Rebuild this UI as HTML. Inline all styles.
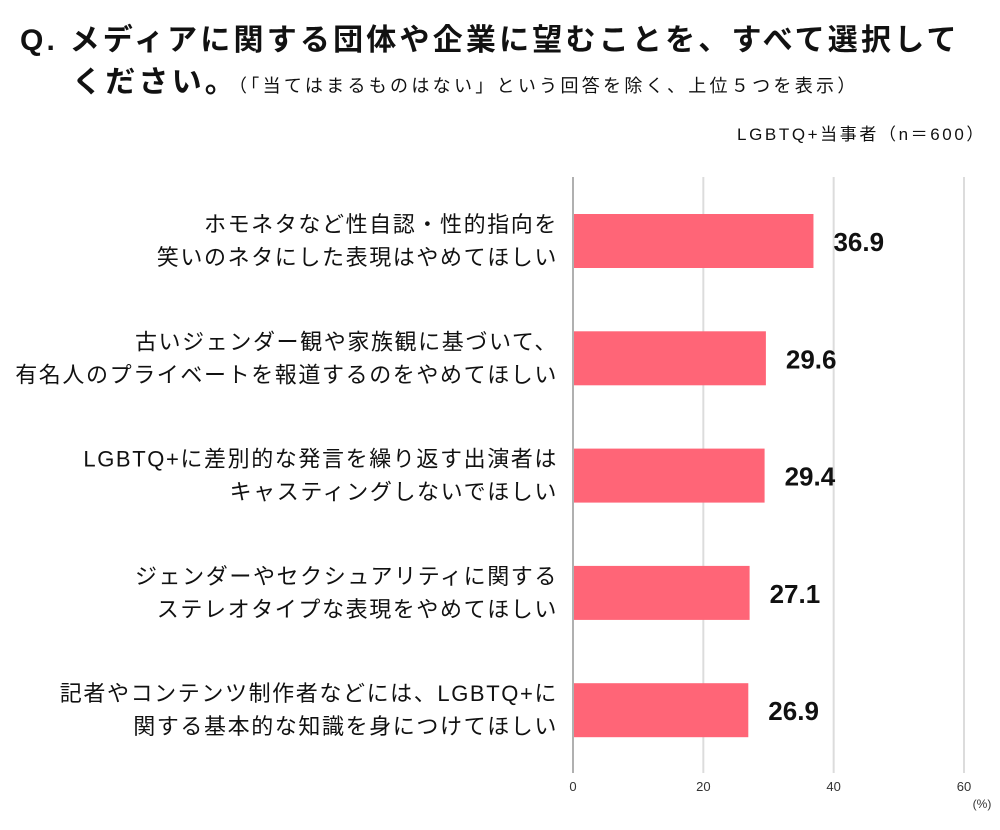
<!DOCTYPE html>
<html><head><meta charset="utf-8"><style>
body{margin:0;background:#fff;width:1000px;height:825px;overflow:hidden;font-family:"Liberation Sans","Noto Sans CJK JP",sans-serif;color:#111}
</style></head><body>
<svg width="1000" height="825" xmlns="http://www.w3.org/2000/svg" font-family="Liberation Sans, Noto Sans CJK JP, sans-serif">
<text x="20" y="50" font-size="30" font-weight="bold" letter-spacing="3.2" fill="#111">Q. メディアに関する団体や企業に望むことを、すべて選択して</text>
<text x="72" y="92" font-size="30" font-weight="bold" letter-spacing="3.2" fill="#111">ください。<tspan font-size="18" font-weight="normal" letter-spacing="3.3" dx="0">（「当てはまるものはない」という回答を除く、上位５つを表示）</tspan></text>
<text x="986" y="140" font-size="17" letter-spacing="2.6" text-anchor="end" fill="#111">LGBTQ+当事者（n＝600）</text>
<g id="grid"></g><g id="bars"></g><g id="labels"></g>
<text x="982" y="808" font-size="12" text-anchor="middle" fill="#333">(%)</text>
</svg>
<script>
const categories=[
["ホモネタなど性自認・性的指向を","笑いのネタにした表現はやめてほしい"],
["古いジェンダー観や家族観に基づいて、","有名人のプライベートを報道するのをやめてほしい"],
["LGBTQ+に差別的な発言を繰り返す出演者は","キャスティングしないでほしい"],
["ジェンダーやセクシュアリティに関する","ステレオタイプな表現をやめてほしい"],
["記者やコンテンツ制作者などには、LGBTQ+に","関する基本的な知識を身につけてほしい"]];
const values=[36.9,29.6,29.4,27.1,26.9];
const ticks=[0,20,40,60];
const NS="http://www.w3.org/2000/svg";
const x0=573,x60=964,yTop=177,yBot=773;
const xs=v=>x0+(x60-x0)*v/60;
const yc=i=>241+117.3*i;
function mk(t,a,p){const e=document.createElementNS(NS,t);for(const k in a)e.setAttribute(k,a[k]);p.appendChild(e);return e;}
const g=document.getElementById('grid'),b=document.getElementById('bars'),l=document.getElementById('labels');
ticks.forEach(t=>{
 const ln=mk('line',{x1:xs(t),x2:xs(t),y1:yTop,y2:yBot,stroke:t===0?'#b0b0b0':'#dcdcdc','stroke-width':2},g);
 
 
 const tx=mk('text',{x:xs(t),y:791,'font-size':13,'text-anchor':'middle',fill:'#333'},g);
 tx.textContent=t;
 
 
});
values.forEach((v,i)=>{
 const r=mk('rect',{x:x0+1,y:yc(i)-27,width:xs(v)-x0-1,height:54,fill:'#ff6577'},b);
 
 
 const vt=mk('text',{x:xs(v)+20,y:yc(i)+10,'font-size':26,'font-weight':'bold',fill:'#111'},l);
 vt.textContent=v.toFixed(1);
 
 
 categories[i].forEach((s,j)=>{
  const ct=mk('text',{x:558,y:yc(i)-9+j*33,'font-size':22,'letter-spacing':1.6,'text-anchor':'end',fill:'#111'},l);
  ct.textContent=s;
  
  
 });
});
</script>
</body></html>
